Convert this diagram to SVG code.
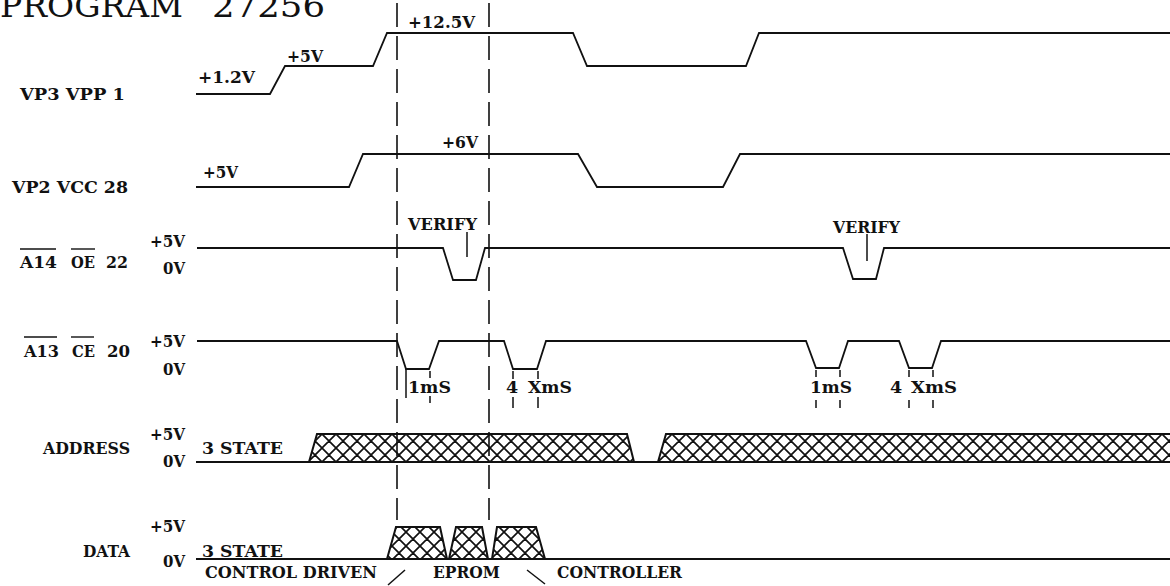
<svg xmlns="http://www.w3.org/2000/svg" width="1170" height="586" viewBox="0 0 1170 586">
<style>
.sig{fill:none;stroke:#111;stroke-width:1.8;stroke-linejoin:miter}
.lbl{font-family:"DejaVu Serif","Liberation Serif",serif;font-weight:bold;font-size:17.5px;fill:#111}
.title{font-family:"DejaVu Serif","Liberation Serif",serif;font-size:31px;fill:#111}
.dash{fill:none;stroke:#111;stroke-width:1.6;stroke-dasharray:24 9}
.tick{fill:none;stroke:#111;stroke-width:1.5}
.band{fill:url(#hatch);stroke:#111;stroke-width:2}
.ol{stroke:#111;stroke-width:1.4}
</style>
<defs>
<pattern id="hatch" patternUnits="userSpaceOnUse" x="0" y="434" width="14" height="14">
<path d="M-7,7 L7,21 M0,0 L14,14 M7,-7 L21,7 M14,0 L0,14 M7,-7 L-7,7 M21,7 L7,21" stroke="#111" stroke-width="1.7" fill="none"/>
</pattern>
</defs>
<rect width="1170" height="586" fill="#fff"/>
<g id="title">
<text class="title" x="0" y="17" textLength="183" lengthAdjust="spacingAndGlyphs">PROGRAM</text>
<text class="title" x="212" y="17" textLength="113" lengthAdjust="spacingAndGlyphs">27256</text>
</g>
<g id="vpp">
<text class="lbl" x="20" y="100" textLength="105" lengthAdjust="spacingAndGlyphs">VP3 VPP 1</text>
<text class="lbl" x="198" y="83" textLength="57" lengthAdjust="spacingAndGlyphs">+1.2V</text>
<text class="lbl" x="287" y="62" textLength="36" lengthAdjust="spacingAndGlyphs">+5V</text>
<text class="lbl" x="408" y="28" textLength="67" lengthAdjust="spacingAndGlyphs">+12.5V</text>
<polyline class="sig" points="196,94 270,94 285,66 373,66 387,33 573,33 587,66 746,66 759,33 1170,33"/>
</g>
<g id="vcc">
<text class="lbl" x="12" y="193" textLength="116" lengthAdjust="spacingAndGlyphs">VP2 VCC 28</text>
<text class="lbl" x="203" y="178" textLength="35" lengthAdjust="spacingAndGlyphs">+5V</text>
<text class="lbl" x="442" y="148" textLength="36" lengthAdjust="spacingAndGlyphs">+6V</text>
<polyline class="sig" points="196,187 349,187 363,154 578,154 597,187 723,187 740,154 1170,154"/>
</g>
<g id="oe">
<text class="lbl" x="20" y="268" textLength="37" lengthAdjust="spacingAndGlyphs">A14</text>
<line class="ol" x1="20" y1="249" x2="56" y2="249"/>
<text class="lbl" x="71" y="268" textLength="24" lengthAdjust="spacingAndGlyphs">OE</text>
<line class="ol" x1="71" y1="249" x2="95" y2="249"/>
<text class="lbl" x="106" y="268" textLength="22" lengthAdjust="spacingAndGlyphs">22</text>
<text class="lbl" x="150" y="247" textLength="35" lengthAdjust="spacingAndGlyphs">+5V</text>
<text class="lbl" x="163" y="274" textLength="22" lengthAdjust="spacingAndGlyphs">0V</text>
<polyline class="sig" points="197,248 443,248 453,280 476,280 485,248 843,248 853,279 876,279 884,248 1170,248"/>
<text class="lbl" x="408" y="230" textLength="69" lengthAdjust="spacingAndGlyphs">VERIFY</text>
<line class="tick" x1="467" y1="232" x2="467" y2="257"/>
<text class="lbl" x="833" y="233" textLength="67" lengthAdjust="spacingAndGlyphs">VERIFY</text>
<line class="tick" x1="867" y1="234" x2="867" y2="261"/>
</g>
<g id="ce">
<text class="lbl" x="24" y="357" textLength="35" lengthAdjust="spacingAndGlyphs">A13</text>
<line class="ol" x1="24" y1="337" x2="57" y2="337"/>
<text class="lbl" x="72" y="357" textLength="23" lengthAdjust="spacingAndGlyphs">CE</text>
<line class="ol" x1="71" y1="337" x2="94" y2="337"/>
<text class="lbl" x="107" y="357" textLength="23" lengthAdjust="spacingAndGlyphs">20</text>
<text class="lbl" x="150" y="347" textLength="35" lengthAdjust="spacingAndGlyphs">+5V</text>
<text class="lbl" x="163" y="375" textLength="22" lengthAdjust="spacingAndGlyphs">0V</text>
<polyline class="sig" points="197,341 397,341 406,369 429,369 439,341 504,341 513,369 537,369 546,341 806,341 816,368 839,368 848,341 899,341 909,368 932,368 941,341 1170,341"/>
<line class="tick" x1="406" y1="369" x2="406" y2="398"/>
<path class="tick" d="M430,371 V378 M430,396 V403 M513,371 V379 M513,397 V408 M538,371 V379 M538,397 V408 M816,370 V377 M816,400 V408 M840,370 V377 M840,400 V408 M909,370 V377 M909,400 V408 M933,370 V377 M933,400 V408"/>
<text class="lbl" x="408" y="393" textLength="43" lengthAdjust="spacingAndGlyphs">1mS</text>
<text class="lbl" x="506" y="393">4</text>
<text class="lbl" x="528" y="393" textLength="44" lengthAdjust="spacingAndGlyphs">XmS</text>
<text class="lbl" x="810" y="393" textLength="42" lengthAdjust="spacingAndGlyphs">1mS</text>
<text class="lbl" x="890" y="393">4</text>
<text class="lbl" x="911" y="393" textLength="46" lengthAdjust="spacingAndGlyphs">XmS</text>
</g>
<g id="address">
<text class="lbl" x="43" y="454" textLength="87" lengthAdjust="spacingAndGlyphs">ADDRESS</text>
<text class="lbl" x="150" y="440" textLength="35" lengthAdjust="spacingAndGlyphs">+5V</text>
<text class="lbl" x="163" y="467" textLength="22" lengthAdjust="spacingAndGlyphs">0V</text>
<text class="lbl" x="202" y="454" textLength="81" lengthAdjust="spacingAndGlyphs">3 STATE</text>
<line class="sig" x1="196" y1="462" x2="1170" y2="462"/>
<polygon class="band" points="309,462 317,434 627,434 634,462"/>
<polygon class="band" points="658,462 666,434 1172,434 1172,462"/>
</g>
<g id="data">
<text class="lbl" x="83" y="557" textLength="47" lengthAdjust="spacingAndGlyphs">DATA</text>
<text class="lbl" x="150" y="532" textLength="35" lengthAdjust="spacingAndGlyphs">+5V</text>
<text class="lbl" x="163" y="567" textLength="22" lengthAdjust="spacingAndGlyphs">0V</text>
<text class="lbl" x="202" y="557" textLength="81" lengthAdjust="spacingAndGlyphs">3 STATE</text>
<line class="sig" x1="196" y1="559" x2="1170" y2="559"/>
<polygon class="band" points="387,559 396,527 440,527 447,559"/>
<polygon class="band" points="449,559 456,527 482,527 488,559"/>
<polygon class="band" points="492,559 497,527 536,527 545,559"/>
<text class="lbl" x="205" y="578" textLength="172" lengthAdjust="spacingAndGlyphs">CONTROL DRIVEN</text>
<text class="lbl" x="433" y="578" textLength="67" lengthAdjust="spacingAndGlyphs">EPROM</text>
<text class="lbl" x="557" y="578" textLength="125" lengthAdjust="spacingAndGlyphs">CONTROLLER</text>
<line class="tick" x1="388" y1="585" x2="405" y2="570"/>
<line class="tick" x1="527" y1="570" x2="545" y2="584"/>
</g>
<g id="connectors">
<line class="dash" x1="397" y1="3" x2="397" y2="520"/>
<line class="dash" x1="489" y1="3" x2="489" y2="520"/>
</g>
</svg>
